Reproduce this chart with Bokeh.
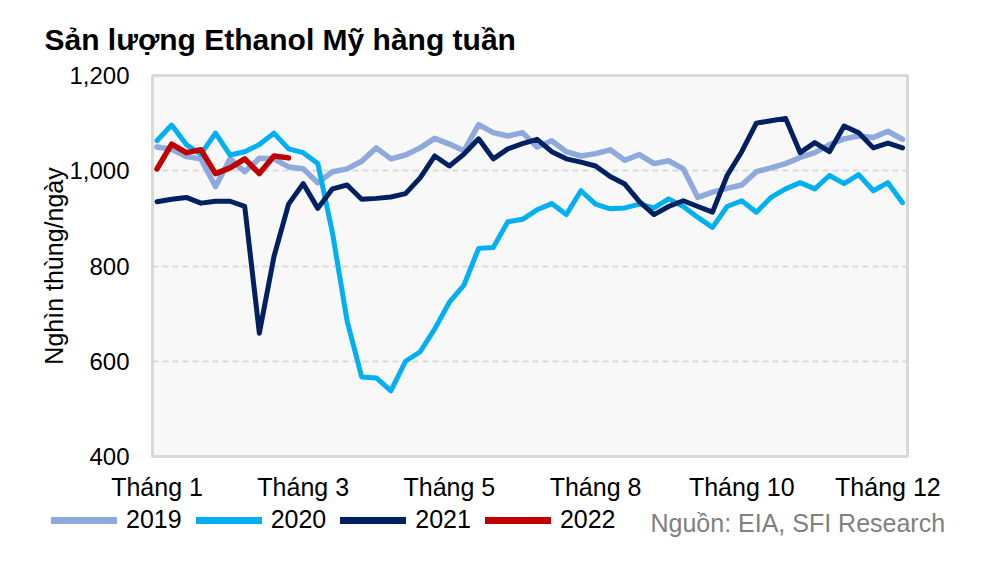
from bokeh.plotting import figure
from bokeh.layouts import column
from bokeh.models import (ColumnDataSource, Legend, LegendItem, FixedTicker,
                          NumeralTickFormatter, Range1d, Label)
from bokeh.embed import file_html
from bokeh.resources import INLINE

title = "Sản lượng Ethanol Mỹ hàng tuần"
y_label = "Nghìn thùng/ngày"
source_note = "Nguồn: EIA, SFI Research"

tick_weeks = [0, 10, 20, 30, 40, 50]
tick_labels = ["Tháng 1", "Tháng 3", "Tháng 5", "Tháng 8", "Tháng 10", "Tháng 12"]

s2019 = [1050, 1045, 1030, 1025, 967, 1025, 998, 1026, 1025, 1008, 1004, 975, 998,
         1004, 1020, 1048, 1025, 1033, 1048, 1068, 1056, 1042, 1097, 1080, 1073, 1080,
         1050, 1063, 1040, 1031, 1036, 1044, 1022, 1034, 1015, 1021, 1004, 944, 955,
         963, 970, 998, 1006, 1015, 1028, 1038, 1055, 1067, 1073, 1070, 1083, 1066]
s2020 = [1063, 1096, 1055, 1035, 1079, 1033, 1040, 1055, 1079, 1046, 1038, 1015, 870,
         685, 567, 565, 538, 600, 620, 668, 724, 760, 837, 839, 893, 898,
         918, 931, 908, 958, 930, 920, 922, 930, 922, 941, 925, 902, 881,
         925, 937, 913, 944, 962, 975, 962, 990, 973, 992, 958, 975, 933]
s2021 = [935, 940, 944, 932, 936, 936, 925, 659, 820, 930, 973, 921, 962,
         970, 940, 942, 945, 952, 985, 1031, 1010, 1035, 1067, 1025, 1046, 1057,
         1066, 1040, 1025, 1018, 1010, 988, 972, 935, 908, 925, 937, 925, 913,
         990, 1040, 1100, 1105, 1110, 1038, 1059, 1040, 1094, 1080, 1048, 1058, 1048]
s2022 = [1004, 1056, 1038, 1044, 994, 1006, 1025, 994, 1031, 1027]

years = ["2019", "2020", "2021", "2022"]
series = [s2019, s2020, s2021, s2022]
colors = ["#8EA9DB", "#00B0F0", "#002060", "#C00000"]
widths = [5.5, 5, 5, 5.5]

FONT = "Liberation Sans"

p = figure(width=984, height=505, output_backend="svg", toolbar_location=None,
           x_range=Range1d(-0.31, 51.34), y_range=Range1d(400, 1200),
           min_border_left=152, min_border_right=77, min_border_top=74,
           min_border_bottom=49)
p.frame_align = False

p.title.text = title
p.title.text_font = FONT
p.title.text_font_size = "30px"
p.title.text_font_style = "bold"
p.title.align = "left"
p.title.offset = -108
p.title.text_color = "#000000"
p.title.standoff = 40

p.background_fill_color = "#F8F8F8"
p.border_fill_color = "white"
p.outline_line_color = "#D9D9D9"
p.outline_line_width = 3

p.xgrid.visible = False
p.ygrid.grid_line_color = "#D9D9D9"
p.ygrid.grid_line_width = 2
p.ygrid.grid_line_dash = "6 4"

p.yaxis.ticker = FixedTicker(ticks=[400, 600, 800, 1000, 1200])
p.yaxis.formatter = NumeralTickFormatter(format="0,0")
p.yaxis.axis_label = y_label
p.yaxis.axis_label_text_font = FONT
p.yaxis.axis_label_text_font_size = "25px"
p.yaxis.axis_label_text_font_style = "normal"
p.yaxis.axis_label_text_color = "#000000"
p.yaxis.axis_label_standoff = -2
p.yaxis.major_label_standoff = 23
p.yaxis.major_label_text_font_size = "24px"

p.xaxis.ticker = FixedTicker(ticks=tick_weeks)
p.xaxis.major_label_overrides = {w: t for w, t in zip(tick_weeks, tick_labels)}
p.xaxis.major_label_standoff = 16
p.xaxis.major_label_text_font_size = "25px"

for ax in (p.xaxis, p.yaxis):
    ax.axis_line_color = None
    ax.major_tick_line_color = None
    ax.minor_tick_line_color = None
    ax.major_tick_out = 0
    ax.major_tick_in = 0
    ax.major_label_text_font = FONT
    ax.major_label_text_color = "#000000"

for name, vals, c, w in zip(years, series, colors, widths):
    src = ColumnDataSource(dict(x=list(range(len(vals))), y=vals))
    p.line("x", "y", source=src, line_color=c, line_width=w,
           line_join="round", line_cap="round")

# legend row below the chart (its own strip so nothing is clipped)
leg = figure(width=984, height=42, output_backend="svg", toolbar_location=None,
             x_range=Range1d(0, 1), y_range=Range1d(0, 1),
             x_axis_type=None, y_axis_type=None, min_border=0)
leg.frame_align = False
leg.outline_line_color = None
leg.background_fill_color = "white"
leg.border_fill_color = "white"
leg.grid.visible = False

nan = float("nan")
items = []
for name, c in zip(years, colors):
    r = leg.line(x=[nan], y=[nan], line_color=c, line_width=7, line_cap="round")
    items.append(LegendItem(label=name, renderers=[r]))

legend = Legend(items=items, orientation="horizontal", location=(51, 13),
                glyph_width=66, glyph_height=24, label_height=24,
                label_standoff=9, spacing=14, padding=0, margin=0,
                background_fill_alpha=0, border_line_color=None,
                label_text_font=FONT, label_text_font_size="25px",
                label_text_color="#000000")
leg.add_layout(legend, "center")

note = Label(x=650, y=25, x_units="screen", y_units="screen", text=source_note,
             text_font=FONT, text_font_size="25px", text_color="#808080",
             text_baseline="middle", text_align="left")
leg.add_layout(note)

open("out.html", "w").write(file_html(column(p, leg, spacing=0), INLINE))
